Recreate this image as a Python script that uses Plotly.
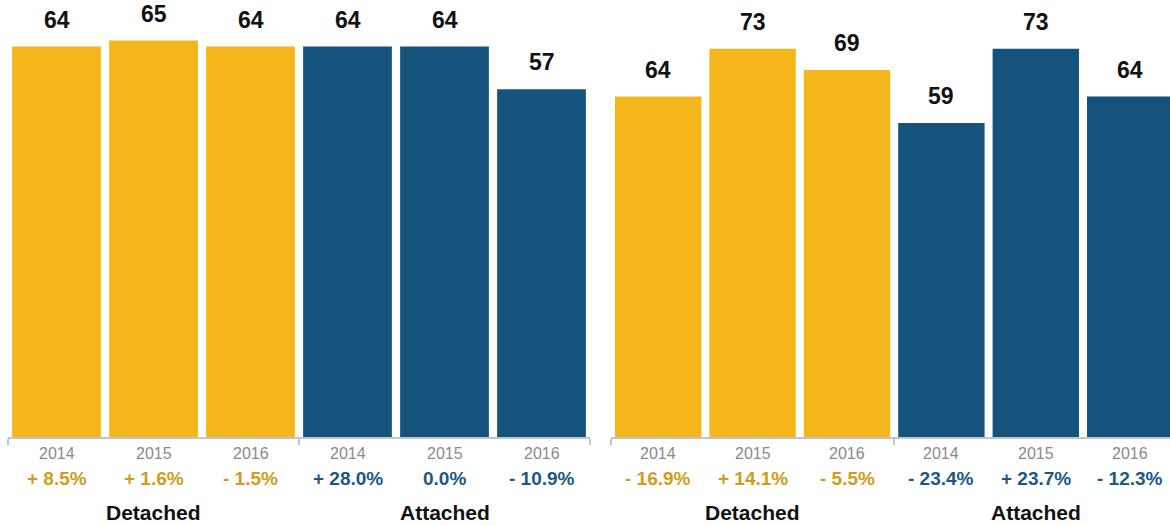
import plotly.graph_objects as go

# Average values by year, two panels of detached / attached homes
years = ["2014", "2015", "2016", "2014", "2015", "2016"]
groups = ["Detached", "Attached"]
left_values = [64, 65, 64, 64, 64, 57]
right_values = [64, 73, 69, 59, 73, 64]
left_changes = ["+ 8.5%", "+ 1.6%", "- 1.5%", "+ 28.0%", "0.0%", "- 10.9%"]
right_changes = ["- 16.9%", "+ 14.1%", "- 5.5%", "- 23.4%", "+ 23.7%", "- 12.3%"]

GOLD = "#F4B61B"
GOLD_TEXT = "#D09C1B"
BLUE = "#15527C"
BLUE_TEXT = "#1B5886"
FONT = "Liberation Sans, Arial, Helvetica, sans-serif"

W, H = 1170, 526
ML, MT, MB = 8, 0, 89
plot_w = W - ML
left_dom = [0, (590 - ML) / plot_w]
right_dom = [(611 - ML) / plot_w, 1.0]

xs = list(range(len(years)))
bar_colors = [GOLD] * 3 + [BLUE] * 3
text_colors = [GOLD_TEXT] * 3 + [BLUE_TEXT] * 3

fig = go.Figure()
fig.add_trace(go.Bar(x=xs, y=left_values, marker=dict(color=bar_colors, line=dict(width=0)),
                     xaxis="x", yaxis="y", hoverinfo="skip"))
fig.add_trace(go.Bar(x=xs, y=right_values, marker=dict(color=bar_colors, line=dict(width=0)),
                     xaxis="x2", yaxis="y2", hoverinfo="skip"))

annotations = []
for xref, yref, vals, changes in [("x", "y", left_values, left_changes),
                                  ("x2", "y2", right_values, right_changes)]:
    ydom = yref + " domain"
    for i, (v, c) in enumerate(zip(vals, changes)):
        # value above each bar
        annotations.append(dict(x=i, y=v, xref=xref, yref=yref, text=f"<b>{v}</b>",
                                showarrow=False, yanchor="middle", yshift=27,
                                font=dict(family=FONT, size=23, color="#111111")))
        # year label
        annotations.append(dict(x=i, y=0, xref=xref, yref=ydom, text=years[i],
                                showarrow=False, yanchor="middle", yshift=-16,
                                font=dict(family=FONT, size=16, color="#8a8a8a")))
        # year-over-year change
        annotations.append(dict(x=i, y=0, xref=xref, yref=ydom, text=f"<b>{c}</b>",
                                showarrow=False, yanchor="middle", yshift=-41,
                                font=dict(family=FONT, size=19, color=text_colors[i])))
    for g, name in enumerate(groups):
        annotations.append(dict(x=g * 3 + 1, y=0, xref=xref, yref=ydom, text=f"<b>{name}</b>",
                                showarrow=False, yanchor="middle", yshift=-75,
                                font=dict(family=FONT, size=21, color="#111111")))

cat_w_right = (1087 - 615) / 5
right_max = 5.5 - (611 + 6 * cat_w_right - W) / cat_w_right

axis_common = dict(showgrid=False, zeroline=False, showline=True, linecolor="#c4c4c4",
                   linewidth=2, ticks="outside", tickcolor="#c4c4c4", tickwidth=2, ticklen=6,
                   tickmode="array", tickvals=[-0.5, 2.5, 5.5], showticklabels=False,
                   fixedrange=True)

fig.update_layout(
    width=W, height=H,
    margin=dict(l=ML, r=0, t=MT, b=MB, pad=0),
    paper_bgcolor="white", plot_bgcolor="white",
    showlegend=False, bargap=0.085,
    xaxis=dict(domain=left_dom, range=[-0.5, 5.5], anchor="y", **axis_common),
    xaxis2=dict(domain=right_dom, range=[-0.5, right_max], anchor="y2", **axis_common),
    yaxis=dict(range=[0, 437 / 6.1], visible=False, anchor="x", fixedrange=True),
    yaxis2=dict(range=[0, 437 / 5.32], visible=False, anchor="x2", fixedrange=True),
    annotations=annotations,
)

fig.write_html("out.html", config={"displayModeBar": False})
